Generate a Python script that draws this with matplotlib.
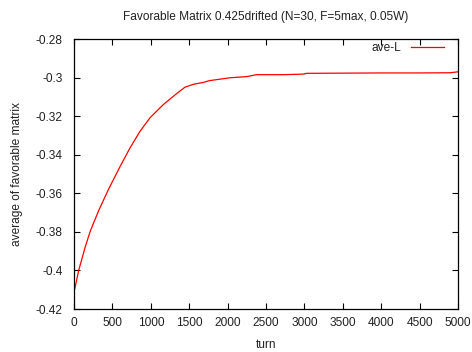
import matplotlib
matplotlib.use("Agg")
import matplotlib.pyplot as plt

turns = [0, 9, 61, 147, 213, 321, 451, 599, 729, 859, 990, 1163, 1337, 1445, 1554, 1684, 1762,
         2031, 2249, 2379, 2509, 2726, 2986, 3030, 3500, 4000, 4500, 4900, 5000]
ave_L = [-0.4105, -0.4098, -0.4000, -0.3877, -0.3795, -0.3690, -0.3578, -0.3462, -0.3365, -0.3279, -0.3208, -0.3140, -0.3083, -0.3050, -0.3035, -0.3025, -0.3016,
         -0.3001, -0.2995, -0.2985, -0.2985, -0.2985, -0.2982, -0.2978, -0.2977, -0.2976, -0.2976, -0.2975, -0.2970]

FS = 8.6
TXT = '#222222'
plt.rcParams['font.family'] = ['Liberation Sans', 'DejaVu Sans']
fig = plt.figure(figsize=(4.72, 3.52), dpi=100)
ax = fig.add_axes([74/472, 1-309/352, 384/472, 270/352])
ax.plot(turns, ave_L, color='#ff0000', lw=0.9, label='ave-L')
ax.set_xlim(0, 5000)
ax.set_ylim(-0.42, -0.28)
ax.set_xticks(range(0, 5001, 500))
ax.set_yticks([-0.42, -0.40, -0.38, -0.36, -0.34, -0.32, -0.30, -0.28])
ax.set_yticklabels(['-0.42', '-0.4', '-0.38', '-0.36', '-0.34', '-0.32', '-0.3', '-0.28'])
ax.tick_params(direction='in', top=True, right=True, length=4, width=0.8, labelsize=FS,
               color='black', labelcolor=TXT, pad=6)
ax.tick_params(axis='y', pad=8)
for s in ax.spines.values():
    s.set_linewidth(0.9)
ax.set_xlabel('turn', fontsize=FS, labelpad=7, color=TXT)
ax.set_ylabel('average of favorable matrix', fontsize=FS, labelpad=9, color=TXT)
ax.set_title('Favorable Matrix 0.425drifted (N=30, F=5max, 0.05W)', fontsize=FS, pad=14, color=TXT)
leg = ax.legend(loc='center right', bbox_to_anchor=((444-74)/384, (309-48)/270), frameon=False,
                fontsize=FS, markerfirst=False, handlelength=2.8, borderpad=0, borderaxespad=0,
                handletextpad=0.8)
for t in leg.get_texts():
    t.set_color(TXT)
fig.savefig('out.png', dpi=100)
